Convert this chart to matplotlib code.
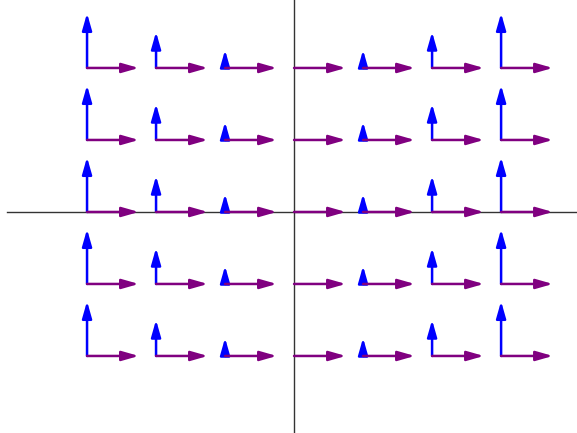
import matplotlib
matplotlib.use("Agg")
import matplotlib.pyplot as plt
from matplotlib.patches import FancyArrowPatch

# grid of frame points
xs = [-3, -2, -1, 0, 1, 2, 3]
ys = [2, 1, 0, -1, -2]

# first frame vector (constant, along x) and second (along y, grows with |x|)
e1_len = 0.75
e2_len = [0.76, 0.50, 0.25, 0.0, 0.25, 0.50, 0.76]

fig = plt.figure(figsize=(5.77, 4.33), dpi=100)
ax = fig.add_axes([7 / 577, 0, 570 / 577, 1])
ax.set_xlim(-4.16, 4.10)
ax.set_ylim(-3.07, 2.944)

for s in ["top", "right"]:
    ax.spines[s].set_visible(False)
ax.spines["left"].set_position(("data", 0))
ax.spines["bottom"].set_position(("data", 0))
for s in ["left", "bottom"]:
    ax.spines[s].set_color("#333333")
    ax.spines[s].set_linewidth(1.0)
ax.set_xticks([])
ax.set_yticks([])

style = "-|>,head_length=0.7,head_width=0.2"
for i, x in enumerate(xs):
    for y in ys:
        if e2_len[i] > 0:
            ax.add_patch(FancyArrowPatch((x, y), (x, y + e2_len[i]), arrowstyle=style,
                                         mutation_scale=14.4, lw=1.8, color="blue",
                                         shrinkA=0, shrinkB=0, zorder=3))
        ax.add_patch(FancyArrowPatch((x, y), (x + e1_len, y), arrowstyle=style,
                                     mutation_scale=14.4, lw=1.8, color="purple",
                                     shrinkA=0, shrinkB=0, zorder=4))

fig.savefig("out.png", dpi=100)
